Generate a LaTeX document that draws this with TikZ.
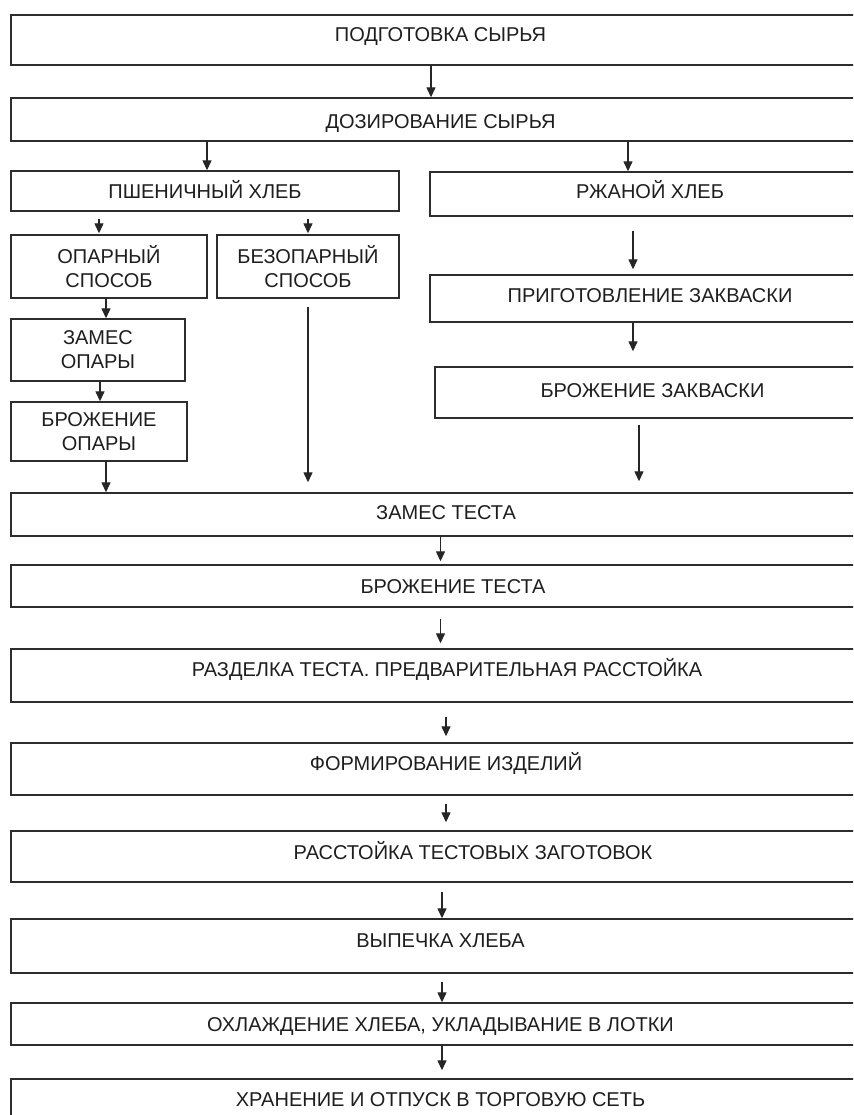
\documentclass[tikz,border=0pt]{standalone}
\usepackage{fontspec}
\setmainfont{Liberation Sans}
\usepackage{tikz}
\usetikzlibrary{arrows.meta, positioning}
\definecolor{linegray}{RGB}{45, 45, 45}
\definecolor{darktext}{RGB}{30, 30, 30}

\begin{document}
\begin{tikzpicture}[
    x=1pt, y=-1pt,
    box/.style={rectangle, draw=linegray, line width=1.4pt, inner sep=0pt, align=center,
                font=\fontsize{20}{24}\selectfont, text=darktext,
                text height=14.5pt, text depth=0pt},
    twoline/.style={rectangle, draw=linegray, line width=1.4pt, inner sep=0pt, align=center,
                    font=\fontsize{20}{24}\selectfont, text=darktext},
    boxsize/.style 2 args={minimum width=#1pt, minimum height=#2pt},
    lift/.style={text depth=#1pt},
    textshift/.style={execute at begin node={\hspace*{#1pt}}},
    arrow/.style={-{Triangle[length=10pt, width=9pt]}, line width=1.3pt, black!85}
]

% Page
\useasboundingbox (0,0) rectangle (853,1115);
\fill[white] (0,0) rectangle (853,1115);
\clip (0,0) rectangle (853,1115);

% Raw material
\node[box, boxsize={859}{50}, lift=11] (prep) at (440.5,40) {ПОДГОТОВКА СЫРЬЯ};
\node[box, boxsize={859}{43}, text height=18.5pt] (doz) at (440.5,119.5) {ДОЗИРОВАНИЕ СЫРЬЯ};

% Wheat branch
\node[box, boxsize={388}{40}] (pshen) at (205,191) {ПШЕНИЧНЫЙ ХЛЕБ};
\node[twoline, boxsize={196}{63}] (opar) at (109,266.5) {ОПАРНЫЙ\\СПОСОБ};
\node[twoline, boxsize={182}{63}] (bezop) at (308,266.5) {БЕЗОПАРНЫЙ\\СПОСОБ};
\node[twoline, boxsize={174}{62}] (zopar) at (98,350) {ЗАМЕС\\ОПАРЫ};
\node[twoline, boxsize={176}{59}] (bopar) at (99,431.5) {БРОЖЕНИЕ\\ОПАРЫ};

% Rye branch
\node[box, boxsize={440}{44}, lift=5] (rzh) at (650,194) {РЖАНОЙ ХЛЕБ};
\node[box, boxsize={440}{47}, lift=6] (zakv) at (650,298.5) {ПРИГОТОВЛЕНИЕ ЗАКВАСКИ};
\node[box, boxsize={435}{51}, lift=5] (bzakv) at (652.5,392.5) {БРОЖЕНИЕ ЗАКВАСКИ};

% Dough and bread
\node[box, boxsize={859}{43}, lift=4, textshift=11] (zamtest) at (440.5,514.5) {ЗАМЕС ТЕСТА};
\node[box, boxsize={859}{42}, textshift=25] (brtest) at (440.5,586) {БРОЖЕНИЕ ТЕСТА};
\node[box, boxsize={859}{53}, lift=13, textshift=13] (razd) at (440.5,675.5) {РАЗДЕЛКА ТЕСТА. ПРЕДВАРИТЕЛЬНАЯ РАССТОЙКА};
\node[box, boxsize={859}{52}, lift=12, textshift=11] (form) at (440.5,769) {ФОРМИРОВАНИЕ ИЗДЕЛИЙ};
\node[box, boxsize={859}{51}, lift=9, textshift=65] (rasst) at (440.5,856.5) {РАССТОЙКА ТЕСТОВЫХ ЗАГОТОВОК};
\node[box, boxsize={859}{54}, lift=12] (vyp) at (440.5,946) {ВЫПЕЧКА ХЛЕБА};
\node[box, boxsize={859}{42}] (ohl) at (440.5,1024) {ОХЛАЖДЕНИЕ ХЛЕБА, УКЛАДЫВАНИЕ В ЛОТКИ};
\node[box, boxsize={859}{40}] (hran) at (440.5,1099) {ХРАНЕНИЕ И ОТПУСК В ТОРГОВУЮ СЕТЬ};

% Arrows
\draw[arrow] ([xshift=-9.5pt]prep.south) -- ([xshift=-9.5pt]prep.south |- doz.north);
\draw[arrow] ([xshift=-233.5pt]doz.south) -- ([xshift=-233.5pt]doz.south |- pshen.north);
\draw[arrow] ([xshift=187.5pt]doz.south) -- ([xshift=187.5pt]doz.south |- rzh.north);
\draw[arrow, shorten <=7pt, shorten >=1pt] ([xshift=-106pt]pshen.south) -- ([xshift=-106pt]pshen.south |- opar.north);
\draw[arrow, shorten <=7pt, shorten >=1pt] ([xshift=103pt]pshen.south) -- ([xshift=103pt]pshen.south |- bezop.north);
\draw[arrow] ([xshift=-3pt]opar.south) -- ([xshift=-3pt]opar.south |- zopar.north);
\draw[arrow] ([xshift=2pt]zopar.south) -- ([xshift=2pt]zopar.south |- bopar.north);
\draw[arrow] ([xshift=7pt]bopar.south) -- ([xshift=7pt]bopar.south |- zamtest.north);
\draw[arrow, shorten <=8pt, shorten >=10pt] (bezop.south) -- (bezop.south |- zamtest.north);
\draw[arrow, shorten <=14pt, shorten >=5pt] ([xshift=-17pt]rzh.south) -- ([xshift=-17pt]rzh.south |- zakv.north);
\draw[arrow, shorten >=15pt] ([xshift=-17pt]zakv.south) -- ([xshift=-17pt]zakv.south |- bzakv.north);
\draw[arrow, shorten <=6pt, shorten >=11pt] ([xshift=-13.5pt]bzakv.south) -- ([xshift=-13.5pt]bzakv.south |- zamtest.north);
\draw[arrow, shorten >=3pt] (zamtest.south) -- (brtest.north);
\draw[arrow, shorten <=11pt, shorten >=5pt] (brtest.south) -- (razd.north);
\draw[arrow, shorten <=14pt, shorten >=6pt] ([xshift=5.5pt]razd.south) -- ([xshift=5.5pt]razd.south |- form.north);
\draw[arrow, shorten <=8pt, shorten >=8pt] ([xshift=5.5pt]form.south) -- ([xshift=5.5pt]form.south |- rasst.north);
\draw[arrow, shorten <=9pt] ([xshift=1.5pt]rasst.south) -- ([xshift=1.5pt]rasst.south |- vyp.north);
\draw[arrow, shorten <=8pt] ([xshift=1.5pt]vyp.south) -- ([xshift=1.5pt]vyp.south |- ohl.north);
\draw[arrow, shorten >=8pt] ([xshift=1.5pt]ohl.south) -- ([xshift=1.5pt]ohl.south |- hran.north);

\end{tikzpicture}
\end{document}
